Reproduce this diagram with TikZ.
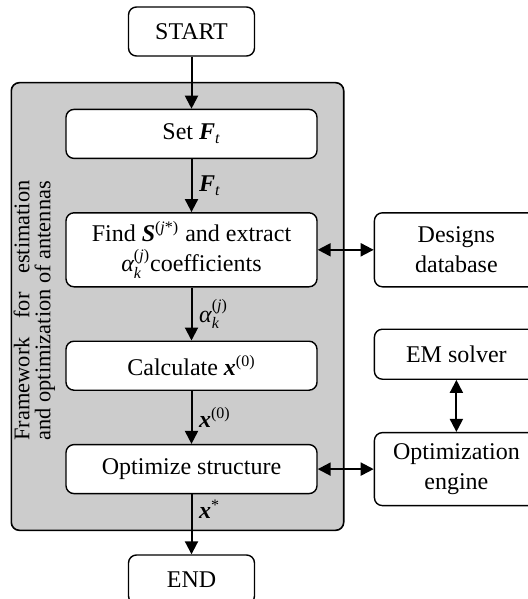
\documentclass[tikz,border=0pt]{standalone}
\usepackage{amsmath}
\usepackage{fontspec}
\setmainfont{Liberation Serif}
\usetikzlibrary{arrows.meta, positioning, calc, fit, backgrounds}
\newcommand{\Ft}{$\textbf{\textit{F}}_{\textit{t}}$}
\newcommand{\Sj}{$\textbf{\textit{S}}^{\textup{(}\textit{j}\textup{*)}}$}
\newcommand{\akj}{$\textit{α}_{\textit{k}}^{\textup{(}\textit{j}\textup{)}}$}
\newcommand{\xzero}{$\textbf{\textit{x}}^{\textup{(0)}}$}
\newcommand{\xopt}{$\textbf{\textit{x}}^{\textup{*}}$}

\begin{document}
\begin{tikzpicture}[
  box/.style={draw, rounded corners=4pt, line width=0.7pt, fill=white,
              align=center, inner sep=2pt, font=\fontsize{12}{15}\selectfont},
  wide/.style={box, minimum width=125.5pt, minimum height=24.5pt},
  side/.style={box, minimum width=82pt},
  frame/.style={draw, rounded corners=4pt, line width=0.8pt, fill=black!20, inner sep=0pt},
  arrow/.style={-{Triangle[length=6.5pt,width=6.5pt]}, line width=1pt},
  dblarrow/.style={{Triangle[length=6.5pt,width=6.5pt]}-{Triangle[length=6.5pt,width=6.5pt]}, line width=1pt},
  lbl/.style={right, font=\fontsize{12}{14}\selectfont},
  node distance=26.5pt and 28pt
]
  \useasboundingbox (0,0) rectangle (264pt,-299.5pt);

  % Nodes
  \node[box, minimum width=63pt, minimum height=24.5pt] (start) at (95.75pt,-15.75pt) {START};
  \node[wide, below=26pt of start] (set) {Set \Ft};
  \node[wide, below=of set, minimum height=37pt] (find) {Find \Sj{} and extract\\ \akj coefficients};
  \node[wide, below=of find] (calc) {Calculate \xzero};
  \node[wide, below=of calc] (opt) {Optimize structure};
  \node[box, minimum width=63pt, minimum height=24.5pt, below=30pt of opt] (end) {END};
  \node[side, minimum height=37pt, right=of find] (db) {Designs\\ database};
  \node[side, minimum height=36.5pt, right=of opt] (engine) {Optimization\\ engine};
  \node[side, minimum height=25pt, above=26pt of engine] (em) {EM solver};

  % Framework
  \coordinate (fwnw) at ($(set.north west)+(-27pt,13pt)$);
  \coordinate (fwse) at ($(opt.south east)+(13pt,-18pt)$);
  \begin{scope}[on background layer]
    \node[frame, fit=(fwnw)(fwse)] (fw) {};
  \end{scope}
  \node[rotate=90, text width=130pt, align=justify, inner sep=0pt,
        font=\fontsize{11.2}{10.5}\selectfont] (fwlabel)
    at ($(set.north west)!0.5!(opt.south west)+(-15.5pt,-4.5pt)$)
    {Framework for estimation\linebreak and optimization of antennas};

  % Arrows
  \draw[arrow] (start) -- (set);
  \draw[arrow] (set) -- node[lbl] {\Ft} (find);
  \draw[arrow] (find) -- node[lbl] {\akj} (calc);
  \draw[arrow] (calc) -- node[lbl] {\xzero} (opt);
  \draw[arrow] (opt) -- node[lbl, pos=0.25] {\xopt} (end);
  \draw[dblarrow] (find) -- (db);
  \draw[dblarrow] (opt) -- (engine);
  \draw[dblarrow] (em) -- (engine);
\end{tikzpicture}
\end{document}
